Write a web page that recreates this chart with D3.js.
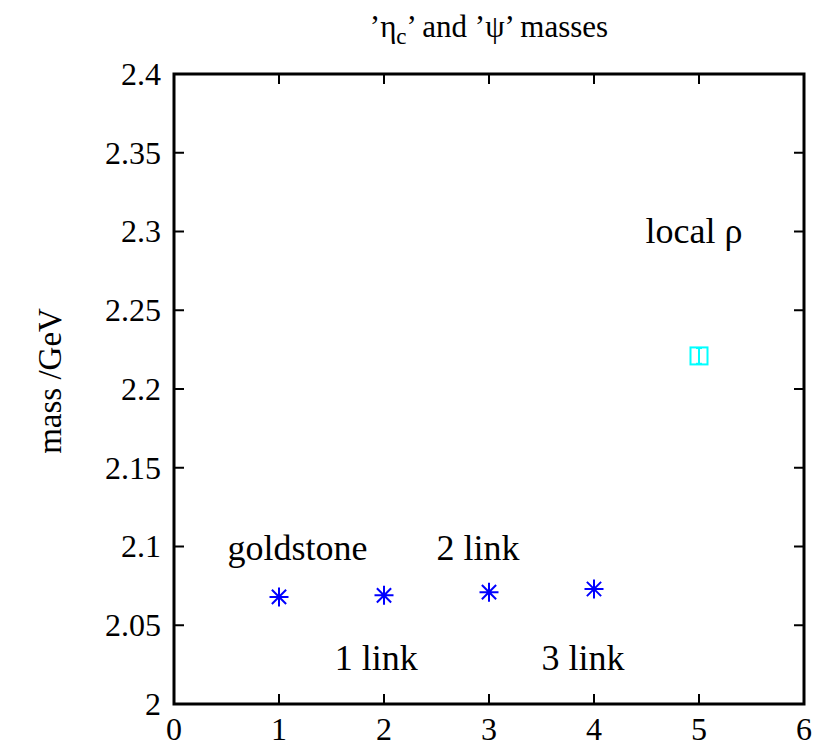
<!DOCTYPE html>
<html>
<head>
<meta charset="utf-8">
<script src="https://cdn.jsdelivr.net/npm/d3@7"></script>
<style>
  html, body { margin: 0; padding: 0; background: #fff; }
  svg { display: block; }
  text { font-family: "Liberation Serif", "Times New Roman", serif; fill: #000; }
</style>
</head>
<body>
<script>
// ---- data ----
const starX = [1, 2, 3, 4];
const starY = [2.068, 2.069, 2.071, 2.073];
const rhoX = [5];
const rhoY = [2.221];
const rhoErr = [0.005];
const xTicks = [0, 1, 2, 3, 4, 5, 6];
const yTicks = [2, 2.05, 2.1, 2.15, 2.2, 2.25, 2.3, 2.35, 2.4];
const yTickLabels = ["2", "2.05", "2.1", "2.15", "2.2", "2.25", "2.3", "2.35", "2.4"];
const labelText = ["goldstone", "1 link", "2 link", "3 link", "local ρ"];
const labelX = [0.51, 1.53, 2.5, 3.5, 4.49];
const labelY = [2.0914, 2.0216, 2.0914, 2.0216, 2.2927];

// ---- layout ----
const W = 819, H = 748;
const m = { left: 174, right: 15, top: 74, bottom: 44 };
const svg = d3.select("body").append("svg").attr("width", W).attr("height", H);

const x = d3.scaleLinear().domain([0, 6]).range([m.left, W - m.right]);
const y = d3.scaleLinear().domain([2, 2.4]).range([H - m.bottom, m.top]);

const tickLen = 10;
const g = svg.append("g");

// ticks (inward, mirrored)
xTicks.forEach(t => {
  if (t === 0 || t === 6) return;
  g.append("line").attr("x1", x(t)).attr("x2", x(t)).attr("y1", y(2)).attr("y2", y(2) - tickLen)
    .attr("stroke", "#000").attr("stroke-width", 2);
  g.append("line").attr("x1", x(t)).attr("x2", x(t)).attr("y1", y(2.4)).attr("y2", y(2.4) + tickLen)
    .attr("stroke", "#000").attr("stroke-width", 2);
});
yTicks.forEach(t => {
  if (t === 2 || t === 2.4) return;
  g.append("line").attr("x1", x(0)).attr("x2", x(0) + tickLen).attr("y1", y(t)).attr("y2", y(t))
    .attr("stroke", "#000").attr("stroke-width", 2);
  g.append("line").attr("x1", x(6)).attr("x2", x(6) - tickLen).attr("y1", y(t)).attr("y2", y(t))
    .attr("stroke", "#000").attr("stroke-width", 2);
});

// tick labels
g.selectAll(".xt").data(xTicks).enter().append("text")
  .attr("x", d => x(d)).attr("y", 740)
  .attr("text-anchor", "middle").attr("font-size", 32).text(d => d);
g.selectAll(".yt").data(yTicks).enter().append("text")
  .attr("x", 161).attr("y", d => y(d))
  .attr("dy", "0.34em")
  .attr("text-anchor", "end").attr("font-size", 32).text((d, i) => yTickLabels[i]);

// frame
g.append("rect").attr("x", x(0)).attr("y", y(2.4)).attr("width", x(6) - x(0)).attr("height", y(2) - y(2.4))
  .attr("fill", "none").attr("stroke", "#000").attr("stroke-width", 3);

// title
const title = svg.append("text").attr("x", (x(0) + x(6)) / 2).attr("y", 37)
  .attr("text-anchor", "middle").attr("font-size", 31);
title.append("tspan").text("’η");
title.append("tspan").attr("dy", 7).attr("font-size", 23).text("c");
title.append("tspan").attr("dy", -7).text("’ and ’ψ’ masses");

// y label
svg.append("text").attr("transform", "translate(61," + 381 + ") rotate(-90)")
  .attr("text-anchor", "middle").attr("font-size", 33).text("mass /GeV");

// star points
const s = 9.5;
const stars = svg.append("g").attr("stroke", "#0000ff").attr("stroke-width", 2).attr("fill", "none");
starX.forEach((xv, i) => {
  const cx = x(xv), cy = y(starY[i]);
  const d = `M${cx - s},${cy}H${cx + s}M${cx},${cy - s}V${cy + s}` +
            `M${cx - s * 0.75},${cy - s * 0.75}L${cx + s * 0.75},${cy + s * 0.75}` +
            `M${cx - s * 0.75},${cy + s * 0.75}L${cx + s * 0.75},${cy - s * 0.75}`;
  stars.append("path").attr("d", d);
});

// local rho: open square with error bar
const rho = svg.append("g").attr("stroke", "#00ffff").attr("stroke-width", 2).attr("fill", "none");
rhoX.forEach((xv, i) => {
  const cx = x(xv), cy = y(rhoY[i]);
  const b = 8.5;
  rho.append("rect").attr("x", cx - b).attr("y", cy - b).attr("width", 2 * b).attr("height", 2 * b);
  const y1 = y(rhoY[i] - rhoErr[i]), y2 = y(rhoY[i] + rhoErr[i]);
  rho.append("line").attr("x1", cx).attr("x2", cx).attr("y1", y1).attr("y2", y2);
  rho.append("line").attr("x1", cx - 3).attr("x2", cx + 3).attr("y1", y1).attr("y2", y1);
  rho.append("line").attr("x1", cx - 3).attr("x2", cx + 3).attr("y1", y2).attr("y2", y2);
});

// annotations
svg.selectAll(".lab").data(labelText).enter().append("text")
  .attr("x", (d, i) => x(labelX[i])).attr("y", (d, i) => y(labelY[i]))
  .attr("font-size", 36).text(d => d);
</script>
</body>
</html>
